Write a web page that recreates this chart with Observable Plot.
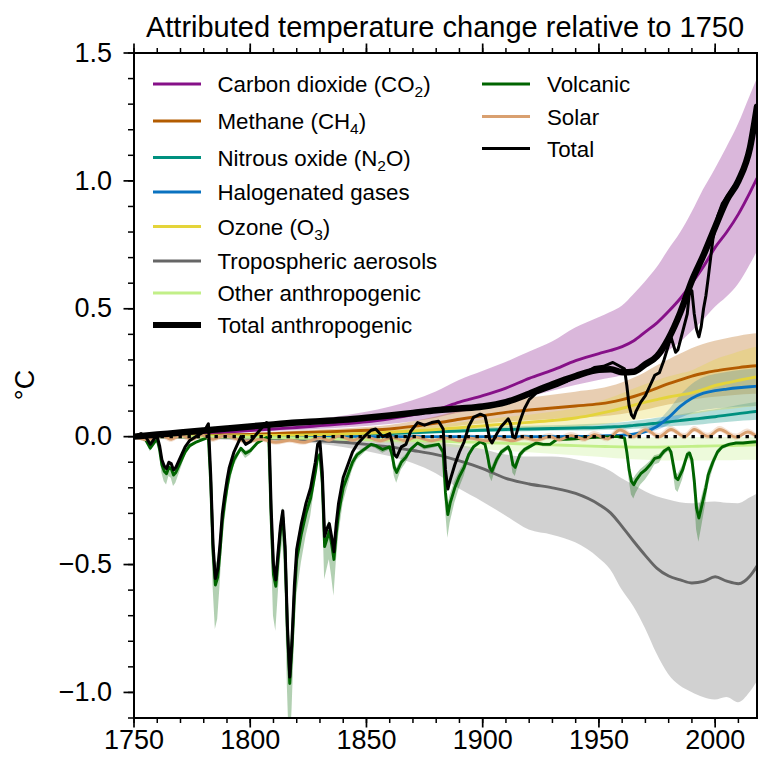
<!DOCTYPE html>
<html><head><meta charset="utf-8">
<script src="https://cdn.jsdelivr.net/npm/d3@7"></script>
<script src="https://cdn.jsdelivr.net/npm/@observablehq/plot@0.6"></script>
<style>body{margin:0;background:#fff}</style>
</head><body><div id="chart"></div>
<script>
const FONT = '"Liberation Sans", Arial, Helvetica, sans-serif';

// ---- smooth (forcing) series, sampled years ----
const smoothYears = [1750,1760,1770,1780,1790,1800,1810,1820,1830,1840,1850,1860,1870,1880,1890,1900,1910,1920,1930,1940,1950,1955,1960,1965,1970,1975,1980,1985,1990,1995,2000,2005,2010,2015,2018];

const co2   = [0,0.003,0.007,0.012,0.018,0.024,0.03,0.036,0.043,0.05, 0.058,0.07,0.085,0.105,0.135,0.16,0.19,0.228,0.26,0.297, 0.325,0.337,0.352,0.375,0.41,0.445,0.49,0.54,0.6,0.665, 0.74,0.8,0.87,0.955,1.01];
const co2Hi = [0,0.005,0.011,0.019,0.028,0.037,0.047,0.057,0.068,0.08, 0.095,0.115,0.14,0.175,0.22,0.255,0.29,0.33,0.37,0.425, 0.465,0.485,0.51,0.555,0.605,0.66,0.73,0.795,0.875,0.965, 1.045,1.13,1.22,1.33,1.395];
const co2Lo = [0,0.002,0.005,0.008,0.012,0.016,0.02,0.024,0.029,0.034, 0.04,0.048,0.058,0.072,0.092,0.11,0.13,0.155,0.178,0.2, 0.22,0.228,0.238,0.255,0.278,0.302,0.335,0.368,0.41,0.455, 0.505,0.545,0.595,0.67,0.72];

const ch4   = [0,0.001,0.003,0.005,0.007,0.009,0.012,0.015,0.018,0.021, 0.025,0.03,0.04,0.053,0.068,0.082,0.095,0.104,0.112,0.12, 0.128,0.135,0.145,0.157,0.172,0.19,0.207,0.222,0.237,0.248, 0.257,0.264,0.27,0.275,0.277];
const ch4Hi = [0,0.0015,0.004,0.007,0.01,0.013,0.017,0.022,0.026,0.03, 0.036,0.044,0.058,0.077,0.099,0.119,0.138,0.151,0.162,0.174, 0.186,0.196,0.21,0.228,0.25,0.276,0.3,0.322,0.344,0.36, 0.373,0.383,0.392,0.399,0.402];
const ch4Lo = [0,0.0006,0.002,0.003,0.004,0.005,0.007,0.009,0.011,0.013, 0.015,0.018,0.024,0.032,0.041,0.049,0.057,0.062,0.067,0.072, 0.077,0.081,0.087,0.094,0.103,0.114,0.124,0.133,0.142,0.149, 0.154,0.158,0.162,0.165,0.166];

const n2o   = [0,0.0005,0.001,0.0015,0.002,0.003,0.004,0.005,0.006,0.008, 0.01,0.012,0.015,0.019,0.022,0.025,0.028,0.03,0.032,0.034, 0.036,0.038,0.04,0.044,0.048,0.053,0.058,0.063,0.068,0.073, 0.078,0.084,0.09,0.096,0.099];
const n2oHi = [0,0.0007,0.0014,0.002,0.003,0.004,0.005,0.007,0.008,0.011, 0.0135,0.016,0.02,0.026,0.03,0.034,0.038,0.041,0.043,0.046, 0.049,0.051,0.054,0.059,0.065,0.072,0.078,0.085,0.092,0.099, 0.105,0.113,0.122,0.13,0.134];
const n2oLo = [0,0.0003,0.0007,0.001,0.0013,0.002,0.0026,0.0033,0.004,0.005, 0.0065,0.008,0.01,0.012,0.014,0.016,0.018,0.0195,0.021,0.022, 0.023,0.025,0.026,0.029,0.031,0.034,0.038,0.041,0.044,0.047, 0.051,0.055,0.059,0.062,0.064];

const halo   = [0,0,0,0,0,0,0,0,0,0, 0,0,0,0,0,0,0,0,0,0.001, 0.002,0.004,0.006,0.01,0.02,0.04,0.075,0.118,0.15,0.17, 0.18,0.186,0.191,0.195,0.197];
const haloHi = [0,0,0,0,0,0,0,0,0,0, 0,0,0,0,0,0,0,0,0,0.0015, 0.003,0.005,0.008,0.014,0.027,0.054,0.101,0.159,0.203,0.23, 0.243,0.251,0.258,0.263,0.266];
const haloLo = [0,0,0,0,0,0,0,0,0,0, 0,0,0,0,0,0,0,0,0,0.0006, 0.0012,0.0024,0.0036,0.006,0.012,0.024,0.045,0.071,0.09,0.102, 0.108,0.112,0.115,0.117,0.118];

const o3   = [0,0.0005,0.001,0.002,0.003,0.004,0.005,0.006,0.008,0.01, 0.013,0.017,0.022,0.028,0.035,0.042,0.05,0.056,0.063,0.073, 0.09,0.1,0.111,0.123,0.135,0.145,0.155,0.163,0.171,0.185, 0.2,0.21,0.22,0.229,0.233];
const o3Hi = [0,0.0008,0.0015,0.003,0.0045,0.006,0.0075,0.009,0.012,0.015, 0.02,0.026,0.033,0.042,0.053,0.063,0.075,0.084,0.095,0.11, 0.135,0.15,0.167,0.185,0.203,0.218,0.233,0.245,0.257,0.278, 0.3,0.315,0.33,0.344,0.35];
const o3Lo = [0,0.0003,0.0005,0.001,0.0015,0.002,0.0025,0.003,0.004,0.005, 0.0065,0.0085,0.011,0.014,0.018,0.021,0.025,0.028,0.032,0.037, 0.045,0.05,0.056,0.062,0.068,0.073,0.078,0.082,0.086,0.093, 0.1,0.105,0.11,0.115,0.117];

const aer   = [0,-0.001,-0.002,-0.003,-0.004,-0.006,-0.008,-0.011,-0.016,-0.022, -0.03,-0.04,-0.054,-0.07,-0.095,-0.125,-0.163,-0.185,-0.2,-0.222, -0.265,-0.298,-0.352,-0.41,-0.465,-0.515,-0.545,-0.56,-0.572,-0.566, -0.548,-0.565,-0.575,-0.545,-0.506];
const aerHi = [0,0,-0.001,-0.001,-0.001,-0.002,-0.003,-0.004,-0.005,-0.007, -0.01,-0.014,-0.018,-0.025,-0.035,-0.05,-0.072,-0.08,-0.08,-0.09, -0.115,-0.135,-0.165,-0.19,-0.215,-0.235,-0.248,-0.258,-0.262,-0.258, -0.255,-0.26,-0.262,-0.24,-0.225];
const aerLo = [0,-0.002,-0.004,-0.006,-0.008,-0.011,-0.015,-0.02,-0.03,-0.042, -0.058,-0.078,-0.105,-0.145,-0.205,-0.255,-0.31,-0.365,-0.385,-0.415, -0.475,-0.52,-0.6,-0.665,-0.75,-0.85,-0.93,-0.975,-1.0,-1.02, -1.03,-1.02,-1.04,-1.0,-0.96];

const oth   = [0,-0.0005,-0.001,-0.0015,-0.002,-0.003,-0.004,-0.005,-0.007,-0.009, -0.011,-0.013,-0.015,-0.017,-0.02,-0.023,-0.026,-0.029,-0.032,-0.035, -0.038,-0.039,-0.04,-0.041,-0.041,-0.041,-0.04,-0.039,-0.038,-0.037, -0.036,-0.035,-0.034,-0.033,-0.032];
const othHi = [0,0,0,0,0,-0.001,-0.001,-0.001,-0.002,-0.002, -0.003,-0.003,-0.003,-0.004,-0.004,-0.004,-0.004,-0.004,-0.005,-0.005, -0.005,-0.005,-0.005,-0.004,-0.004,-0.004,-0.004,-0.003,-0.003,-0.003, -0.003,-0.003,-0.003,-0.002,-0.002];
const othLo = [0,-0.001,-0.002,-0.003,-0.004,-0.006,-0.008,-0.01,-0.014,-0.018, -0.022,-0.027,-0.032,-0.037,-0.044,-0.05,-0.057,-0.063,-0.069,-0.075, -0.081,-0.084,-0.087,-0.09,-0.092,-0.094,-0.095,-0.095,-0.095,-0.095, -0.094,-0.094,-0.093,-0.092,-0.092];

const anthro = [0,0.008,0.016,0.024,0.032,0.04,0.048,0.055,0.06,0.066, 0.074,0.083,0.093,0.103,0.11,0.118,0.135,0.168,0.205,0.237, 0.262,0.264,0.252,0.254,0.283,0.315,0.385,0.485,0.61,0.71, 0.82,0.925,1.0,1.13,1.29];

// ---- volcanic & total (finer sampling) ----
const yearsNat = [1750,1753,1755,1757,1759,1760,1761,1762,1763,1764,
 1765,1766,1767,1768,1770,1772,1774,1777,1780,1782,
 1783,1784,1785,1786,1787,1788,1789,1790,1791,1793,
 1794,1796,1798,1800,1803,1806,1807,1808,1809,1810,
 1811,1812,1813,1814,1815,1816,1817,1818,1819,1820,
 1822,1824,1826,1828,1829,1830,1831,1832,1833,1834,
 1835,1836,1837,1838,1840,1842,1844,1846,1849,1852,
 1854,1857,1860,1861,1862,1863,1865,1867,1869,1872,
 1875,1878,1881,1883,1884,1885,1886,1888,1890,1892,
 1894,1896,1899,1901,1902,1903,1904,1906,1908,1911,
 1912,1913,1914,1916,1918,1920,1923,1926,1929,1932,
 1936,1940,1944,1948,1952,1956,1958,1961,1962,1963,
 1964,1965,1966,1968,1970,1972,1974,1976,1978,1980,
 1981,1982,1983,1984,1986,1988,1989,1990,1991,1992,
 1993,1994,1995,1996,1997,1999,2001,2003,2006,2009,
 2012,2015,2018];
const volcanic = [0,-0.003,-0.012,-0.045,-0.02,-0.012,-0.05,-0.11,-0.135,-0.145,
 -0.12,-0.125,-0.15,-0.14,-0.1,-0.06,-0.035,-0.02,-0.01,-0.002,
 -0.18,-0.45,-0.58,-0.55,-0.45,-0.33,-0.26,-0.2,-0.15,-0.09,
 -0.075,-0.045,-0.065,-0.055,-0.025,-0.008,-0.003,-0.01,-0.32,-0.54,
 -0.585,-0.48,-0.37,-0.315,-0.45,-0.76,-0.965,-0.82,-0.62,-0.48,
 -0.38,-0.3,-0.24,-0.14,-0.08,-0.07,-0.18,-0.43,-0.4,-0.37,
 -0.42,-0.48,-0.38,-0.3,-0.2,-0.15,-0.1,-0.07,-0.05,-0.03,
 -0.035,-0.05,-0.04,-0.07,-0.12,-0.14,-0.1,-0.08,-0.05,-0.025,
 -0.04,-0.035,-0.03,-0.06,-0.22,-0.305,-0.26,-0.2,-0.155,-0.12,
 -0.07,-0.04,-0.02,-0.03,-0.07,-0.12,-0.135,-0.09,-0.06,-0.04,
 -0.06,-0.11,-0.12,-0.07,-0.05,-0.04,-0.025,-0.03,-0.03,-0.01,
 -0.01,-0.008,-0.005,-0.003,-0.002,0,0,-0.005,-0.06,-0.13,
 -0.175,-0.188,-0.17,-0.145,-0.13,-0.11,-0.085,-0.08,-0.057,-0.044,
 -0.06,-0.11,-0.16,-0.168,-0.13,-0.07,-0.064,-0.09,-0.17,-0.28,
 -0.318,-0.28,-0.24,-0.2,-0.15,-0.1,-0.06,-0.04,-0.03,-0.025,
 -0.025,-0.022,-0.02];
const volcLo = [0,-0.004,-0.016,-0.059,-0.026,-0.016,-0.065,-0.143,-0.176,-0.189,
 -0.156,-0.163,-0.195,-0.182,-0.13,-0.078,-0.046,-0.026,-0.013,-0.003,
 -0.234,-0.585,-0.754,-0.715,-0.585,-0.429,-0.338,-0.26,-0.195,-0.117,
 -0.098,-0.059,-0.085,-0.072,-0.033,-0.01,-0.004,-0.013,-0.416,-0.702,
 -0.761,-0.624,-0.481,-0.41,-0.585,-0.988,-1.255,-1.066,-0.806,-0.624,
 -0.494,-0.39,-0.312,-0.182,-0.104,-0.091,-0.234,-0.559,-0.52,-0.481,
 -0.546,-0.624,-0.494,-0.39,-0.26,-0.195,-0.13,-0.091,-0.065,-0.039,
 -0.046,-0.065,-0.052,-0.091,-0.156,-0.182,-0.13,-0.104,-0.065,-0.033,
 -0.052,-0.046,-0.039,-0.078,-0.286,-0.397,-0.338,-0.26,-0.202,-0.156,
 -0.091,-0.052,-0.026,-0.039,-0.091,-0.156,-0.176,-0.117,-0.078,-0.052,
 -0.078,-0.143,-0.156,-0.091,-0.065,-0.052,-0.033,-0.039,-0.039,-0.013,
 -0.013,-0.01,-0.007,-0.004,-0.003,0,0,-0.007,-0.078,-0.169,
 -0.228,-0.244,-0.221,-0.189,-0.169,-0.143,-0.111,-0.104,-0.074,-0.057,
 -0.078,-0.143,-0.208,-0.218,-0.169,-0.091,-0.083,-0.117,-0.221,-0.364,
 -0.413,-0.364,-0.312,-0.26,-0.195,-0.13,-0.078,-0.052,-0.039,-0.033,
 -0.033,-0.029,-0.026];
const volcHi = [0,-0.003,-0.011,-0.04,-0.018,-0.011,-0.044,-0.097,-0.119,-0.128,
 -0.106,-0.11,-0.132,-0.123,-0.088,-0.053,-0.031,-0.018,-0.009,-0.002,
 -0.158,-0.396,-0.51,-0.484,-0.396,-0.29,-0.229,-0.176,-0.132,-0.079,
 -0.066,-0.04,-0.057,-0.048,-0.022,-0.007,-0.003,-0.009,-0.282,-0.475,
 -0.515,-0.422,-0.326,-0.277,-0.396,-0.669,-0.849,-0.722,-0.546,-0.422,
 -0.334,-0.264,-0.211,-0.123,-0.07,-0.062,-0.158,-0.378,-0.352,-0.326,
 -0.37,-0.422,-0.334,-0.264,-0.176,-0.132,-0.088,-0.062,-0.044,-0.026,
 -0.031,-0.044,-0.035,-0.062,-0.106,-0.123,-0.088,-0.07,-0.044,-0.022,
 -0.035,-0.031,-0.026,-0.053,-0.194,-0.268,-0.229,-0.176,-0.136,-0.106,
 -0.062,-0.035,-0.018,-0.026,-0.062,-0.106,-0.119,-0.079,-0.053,-0.035,
 -0.053,-0.097,-0.106,-0.062,-0.044,-0.035,-0.022,-0.026,-0.026,-0.009,
 -0.009,-0.007,-0.004,-0.003,-0.002,0,0,-0.004,-0.053,-0.114,
 -0.154,-0.165,-0.15,-0.128,-0.114,-0.097,-0.075,-0.07,-0.05,-0.039,
 -0.053,-0.097,-0.141,-0.148,-0.114,-0.062,-0.056,-0.079,-0.15,-0.246,
 -0.28,-0.246,-0.211,-0.176,-0.132,-0.088,-0.053,-0.035,-0.026,-0.022,
 -0.022,-0.019,-0.018];
const total = [0,0.012,0.0,-0.03,-0.005,0.0,-0.035,-0.09,-0.115,-0.125,
 -0.1,-0.105,-0.13,-0.12,-0.08,-0.04,-0.015,0.003,0.018,0.05,
 -0.15,-0.42,-0.555,-0.52,-0.42,-0.3,-0.23,-0.17,-0.12,-0.06,
 -0.04,0.0,-0.03,-0.02,0.013,0.045,0.055,0.05,-0.28,-0.5,
 -0.56,-0.45,-0.35,-0.29,-0.43,-0.74,-0.94,-0.79,-0.58,-0.44,
 -0.34,-0.26,-0.2,-0.1,-0.03,-0.02,-0.14,-0.39,-0.36,-0.34,
 -0.39,-0.45,-0.34,-0.26,-0.16,-0.11,-0.06,-0.03,0.0,0.025,
 0.03,0.0,0.012,-0.02,-0.07,-0.08,-0.04,-0.03,0.02,0.055,
 0.045,0.055,0.06,0.03,-0.13,-0.205,-0.17,-0.11,-0.06,-0.02,
 0.04,0.075,0.088,0.08,0.04,-0.01,-0.025,0.01,0.04,0.07,
 0.05,0.0,-0.005,0.06,0.11,0.145,0.17,0.18,0.19,0.2,
 0.215,0.235,0.25,0.27,0.275,0.29,0.28,0.265,0.2,0.12,
 0.085,0.073,0.1,0.135,0.16,0.2,0.24,0.25,0.3,0.36,
 0.39,0.36,0.33,0.34,0.41,0.48,0.57,0.57,0.48,0.42,
 0.39,0.43,0.5,0.55,0.62,0.77,0.86,0.91,0.95,0.99,
 1.04,1.13,1.28];

// ---- solar ----
const yearsSolar = [1750,1756,1762,1766,1770,1775,1779,1784,1789,1798, 1805,1811,1817,1823,1830,1834,1838,1844,1849,1856, 1861,1867,1871,1878,1884,1890,1894,1902,1906,1913, 1918,1923,1929,1933,1938,1944,1948,1954,1959,1965, 1970,1976,1981,1987,1991,1997,2002,2009,2014,2018];
const solar   = [0,-0.012,0.004,-0.01,0.005,-0.01,0.006,-0.01,0.004,-0.018, -0.01,-0.022,-0.014,-0.022,-0.005,-0.014,0.002,-0.014,0,-0.016, -0.004,-0.016,-0.002,-0.016,-0.005,-0.016,-0.006,-0.016,-0.006,-0.016, -0.004,-0.014,0,-0.012,0.004,-0.01,0.008,-0.008,0.026,0, 0.027,0,0.028,0,0.028,0.001,0.028,-0.002,0.018,0];
const solarLo = [0,-0.024,-0.008,-0.022,-0.007,-0.022,-0.006,-0.022,-0.008,-0.03, -0.022,-0.034,-0.026,-0.034,-0.017,-0.026,-0.01,-0.026,-0.012,-0.028, -0.016,-0.028,-0.014,-0.028,-0.017,-0.028,-0.018,-0.028,-0.018,-0.028, -0.016,-0.026,-0.012,-0.024,-0.008,-0.022,-0.004,-0.02,0.014,-0.012, 0.015,-0.012,0.016,-0.012,0.016,-0.011,0.016,-0.014,0.006,-0.012];
const solarHi = [0,0,0.016,0.002,0.017,0.002,0.018,0.002,0.016,-0.006, 0.002,-0.01,-0.002,-0.01,0.007,-0.002,0.014,-0.002,0.012,-0.004, 0.008,-0.004,0.01,-0.004,0.007,-0.004,0.006,-0.004,0.006,-0.004, 0.008,-0.002,0.012,0,0.016,0.002,0.02,0.004,0.038,0.012, 0.039,0.012,0.04,0.012,0.04,0.013,0.04,0.01,0.03,0.012];

// ---- ticks ----
const xMajor = [1750,1800,1850,1900,1950,2000];
const xMinor = d3.range(1750, 2019, 10);
const yMajor = [-1.0,-0.5,0.0,0.5,1.0,1.5];
const yMinor = d3.range(-11, 16).map(d => d / 10);

const C = {co2:"#861088", ch4:"#b35c00", n2o:"#00907f", halo:"#0a72c0", o3:"#e4d43a",
  aer:"#666666", oth:"#c2ef88", volc:"#006400", sol:"#d9a070", tot:"#000000"};

// sanity checks
[[smoothYears,co2,co2Hi,co2Lo,ch4,ch4Hi,ch4Lo,n2o,n2oHi,n2oLo,halo,haloHi,haloLo,o3,o3Hi,o3Lo,aer,aerHi,aerLo,oth,othHi,othLo,anthro],
 [yearsNat,volcanic,volcLo,volcHi,total],[yearsSolar,solar,solarLo,solarHi]].forEach((g,gi) => {
  g.forEach((a,i) => { if (a.length !== g[0].length) throw new Error("length mismatch group "+gi+" idx "+i+": "+a.length+" vs "+g[0].length); });
});

const rows = (xs, ys, lo, hi) => xs.map((x, i) => ({x, y: ys[i], lo: lo ? lo[i] : null, hi: hi ? hi[i] : null}));
const dCO2 = rows(smoothYears, co2, co2Lo, co2Hi);
const dCH4 = rows(smoothYears, ch4, ch4Lo, ch4Hi);
const dN2O = rows(smoothYears, n2o, n2oLo, n2oHi);
const dHalo = rows(smoothYears, halo, haloLo, haloHi);
const dO3 = rows(smoothYears, o3, o3Lo, o3Hi);
const dAer = rows(smoothYears, aer, aerLo, aerHi);
const dOth = rows(smoothYears, oth, othLo, othHi);
const dAnthro = rows(smoothYears, anthro);
const dVolc = rows(yearsNat, volcanic, volcLo, volcHi);
const dTotal = rows(yearsNat, total);
const dSol = rows(yearsSolar, solar, solarLo, solarHi);

const band = (d, color, curve) => Plot.areaY(d, {x: "x", y1: "lo", y2: "hi", fill: color, fillOpacity: 0.3, curve, clip: true});
const line = (d, color, w, curve) => Plot.line(d, {x: "x", y: "y", stroke: color, strokeWidth: w, curve, clip: true, strokeLinejoin: "round"});
const SM = "monotone-x";
const LW = 2.9;

const plot = Plot.plot({
  width: 759, height: 765,
  marginLeft: 133.5, marginRight: 2.5, marginTop: 52.5, marginBottom: 47.5,
  style: {fontFamily: FONT, background: "white", overflow: "visible", color: "black"},
  x: {domain: [1750, 2018]},
  y: {domain: [-1.1, 1.5]},
  marks: [
    band(dCO2, C.co2, SM), band(dCH4, C.ch4, SM), band(dN2O, C.n2o, SM), band(dHalo, C.halo, SM),
    band(dO3, C.o3, SM), band(dAer, C.aer, SM), band(dOth, C.oth, SM),
    band(dVolc, C.volc, "linear"), band(dSol, C.sol, "catmull-rom"),
    line(dCO2, C.co2, LW, SM), line(dCH4, C.ch4, LW, SM), line(dN2O, C.n2o, LW, SM),
    line(dHalo, C.halo, LW, SM), line(dO3, C.o3, LW, SM), line(dAer, C.aer, LW, SM),
    line(dOth, C.oth, LW, SM), line(dVolc, C.volc, LW, "linear"), line(dSol, C.sol, LW, "catmull-rom"),
    Plot.ruleY([0], {stroke: "black", strokeWidth: 3.4, strokeDasharray: "3.4,5.6"}),
    line(dAnthro, C.tot, 6.5, SM),
    line(dTotal, C.tot, 3, "linear"),
    Plot.axisX({ticks: xMajor, tickSize: 10, tickPadding: 2, fontSize: 27, tickFormat: d => String(d), label: null, strokeWidth: 1.7}),
    Plot.axisX({ticks: xMinor, tickSize: 5.5, tickFormat: () => "", label: null, strokeWidth: 1.5}),
    Plot.axisX({anchor: "top", ticks: xMajor, tickSize: 10, tickFormat: () => "", label: null, strokeWidth: 1.7}),
    Plot.axisX({anchor: "top", ticks: xMinor, tickSize: 5.5, tickFormat: () => "", label: null, strokeWidth: 1.5}),
    Plot.axisY({ticks: yMajor, tickSize: 10, tickPadding: 12, fontSize: 27, tickFormat: d3.format(".1f"), label: null, strokeWidth: 1.7}),
    Plot.axisY({ticks: yMinor, tickSize: 5.5, tickFormat: () => "", label: null, strokeWidth: 1.5}),
    Plot.frame({stroke: "black", strokeWidth: 2})
  ]
});

document.getElementById("chart").appendChild(plot);

// ---- title, y label, legend ----
const svg = d3.select(plot);
const g = svg.append("g").attr("font-family", FONT).attr("fill", "black").attr("text-anchor", "start");
g.append("text").attr("x", 445).attr("y", 37).attr("text-anchor", "middle").attr("font-size", 29)
  .text("Attributed temperature change relative to 1750");
g.append("text").attr("transform", "translate(34,385) rotate(-90)").attr("text-anchor", "middle").attr("font-size", 27).text("°C");

const legendLeft = [
  {parts: ["Carbon dioxide (CO", "2", ")"], color: C.co2, w: 3, y: 84},
  {parts: ["Methane (CH", "4", ")"], color: C.ch4, w: 3, y: 121},
  {parts: ["Nitrous oxide (N", "2", "O)"], color: C.n2o, w: 3, y: 157.5},
  {parts: ["Halogenated gases"], color: C.halo, w: 3, y: 192},
  {parts: ["Ozone (O", "3", ")"], color: C.o3, w: 3, y: 226.5},
  {parts: ["Tropospheric aerosols"], color: C.aer, w: 3, y: 261},
  {parts: ["Other anthropogenic"], color: C.oth, w: 3, y: 293},
  {parts: ["Total anthropogenic"], color: C.tot, w: 6, y: 325}
];
const legendRight = [
  {parts: ["Volcanic"], color: C.volc, w: 3, y: 84},
  {parts: ["Solar"], color: C.sol, w: 3, y: 116.5},
  {parts: ["Total"], color: C.tot, w: 3.2, y: 148.5}
];
function entry(x1, x2, tx, e) {
  g.append("line").attr("x1", x1).attr("x2", x2).attr("y1", e.y).attr("y2", e.y)
    .attr("stroke", e.color).attr("stroke-width", e.w);
  const t = g.append("text").attr("x", tx).attr("y", e.y + 8).attr("font-size", 22.3).attr("text-anchor", "start");
  e.parts.forEach((p, i) => {
    const s = t.append("tspan").text(p);
    if (i === 1) s.attr("font-size", 15.5).attr("dy", 5);
    if (i === 2) s.attr("dy", -5);
  });
}
legendLeft.forEach(e => entry(153, 201, 217.5, e));
legendRight.forEach(e => entry(482, 530, 547, e));
</script>
</body></html>
